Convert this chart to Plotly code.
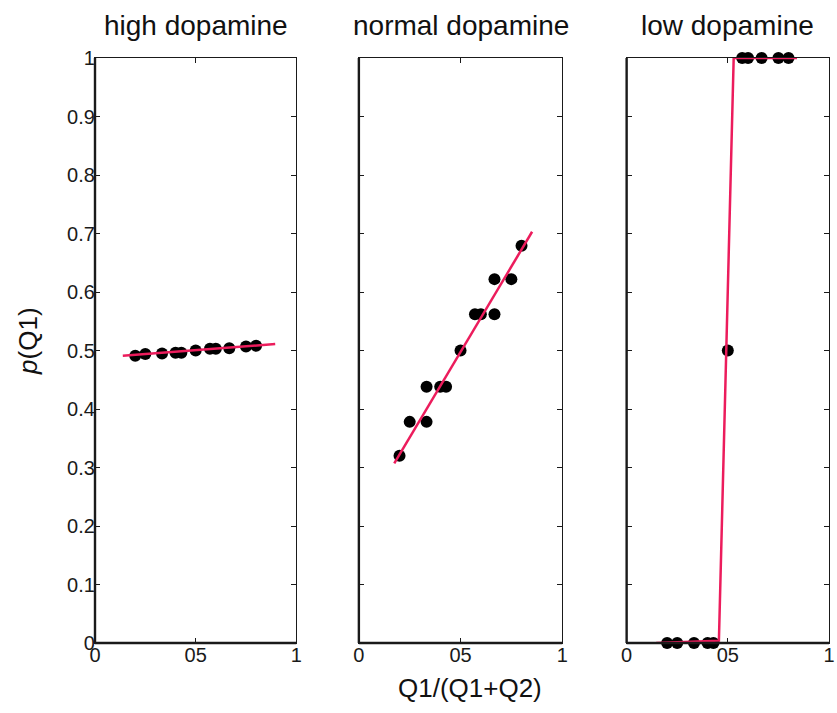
import plotly.graph_objects as go

# ---- data ----
titles = ["high dopamine", "normal dopamine", "low dopamine"]

high_x = [0.2, 0.25, 0.333, 0.4, 0.429, 0.5, 0.571, 0.6, 0.667, 0.75, 0.8]
high_y = [0.491, 0.494, 0.495, 0.496, 0.496, 0.500, 0.503, 0.503, 0.504, 0.507, 0.508]
high_fit_x = [0.138, 0.895]
high_fit_y = [0.491, 0.511]

normal_x = [0.2, 0.25, 0.333, 0.333, 0.4, 0.429, 0.5, 0.571, 0.6, 0.667, 0.667, 0.75, 0.8]
normal_y = [0.32, 0.378, 0.378, 0.438, 0.438, 0.438, 0.5, 0.562, 0.562, 0.562, 0.622, 0.622, 0.679]
normal_fit_x = [0.174, 0.852]
normal_fit_y = [0.307, 0.703]

low_x = [0.2, 0.25, 0.333, 0.4, 0.429, 0.5, 0.571, 0.6, 0.667, 0.75, 0.8]
low_y = [0, 0, 0, 0, 0, 0.5, 1, 1, 1, 1, 1]
low_fit_x = [0.146, 0.456, 0.529, 0.842]
low_fit_y = [0.0, 0.004, 1.0, 1.0]

x_tickvals = [0, 0.5, 1]
x_ticktext = ["0", "05", "1"]
y_tickvals = [0, 0.1, 0.2, 0.3, 0.4, 0.5, 0.6, 0.7, 0.8, 0.9, 1]
y_ticktext = ["0", "0.1", "0.2", "0.3", "0.4", "0.5", "0.6", "0.7", "0.8", "0.9", "1"]

x_label = "Q1/(Q1+Q2)"
y_label = "<i>p</i>(Q1)"

# ---- styling ----
FONT = "Liberation Sans, Arial, Helvetica, sans-serif"
LINE_COLOR = "rgb(236,28,92)"
domains = [[0.0, 0.2743], [0.3595, 0.6365], [0.7243, 1.0]]

panels = [
    (high_x, high_y, high_fit_x, high_fit_y),
    (normal_x, normal_y, normal_fit_x, normal_fit_y),
    (low_x, low_y, low_fit_x, low_fit_y),
]

fig = go.Figure()
layout_axes = {}
shapes = []
annotations = []

for i, (px, py, fx, fy) in enumerate(panels):
    n = i + 1
    xa = "x" if n == 1 else f"x{n}"
    ya = "y" if n == 1 else f"y{n}"
    fig.add_trace(go.Scatter(
        x=px, y=py, xaxis=xa, yaxis=ya, mode="markers",
        marker=dict(symbol="circle", size=12, color="black"),
        cliponaxis=False, showlegend=False, hoverinfo="skip"))
    fig.add_trace(go.Scatter(
        x=fx, y=fy, xaxis=xa, yaxis=ya, mode="lines",
        line=dict(color=LINE_COLOR, width=2.5),
        cliponaxis=False, showlegend=False, hoverinfo="skip"))

    common = dict(
        range=[0, 1], showgrid=False, zeroline=False,
        showline=True, linecolor="#1a1a1a", linewidth=1.3, mirror="ticks",
        ticks="inside", ticklen=5, tickwidth=1.2, tickcolor="#1a1a1a",
        tickfont=dict(family=FONT, size=20, color="#1a1a1a"),
        fixedrange=True,
    )
    layout_axes["xaxis" if n == 1 else f"xaxis{n}"] = dict(
        common, domain=domains[i], anchor=ya,
        tickmode="array", tickvals=x_tickvals, ticktext=x_ticktext,
        ticklabelstandoff=-6)
    layout_axes["yaxis" if n == 1 else f"yaxis{n}"] = dict(
        common, domain=[0, 1], anchor=xa,
        tickmode="array", tickvals=y_tickvals, ticktext=y_ticktext,
        showticklabels=(n == 1), ticklabelstandoff=-5)

    xd = f"{xa} domain"
    yd = f"{ya} domain"
    shapes.append(dict(type="line", xref=xd, yref=yd, x0=0, x1=0, y0=0, y1=1,
                       line=dict(color="#1a1a1a", width=2.4)))
    shapes.append(dict(type="line", xref=xd, yref=yd, x0=0, x1=1, y0=0, y1=0,
                       line=dict(color="#1a1a1a", width=2.4)))
    annotations.append(dict(
        text=titles[i], xref=xd, yref="paper", x=0.5, y=1.055,
        xanchor="center", yanchor="middle", showarrow=False,
        font=dict(family=FONT, size=28, color="#111")))

annotations.append(dict(
    text=x_label, xref="paper", yref="paper", x=0.511, y=-0.077,
    xanchor="center", yanchor="middle", showarrow=False,
    font=dict(family=FONT, size=26, color="#111")))
annotations.append(dict(
    text=y_label, xref="paper", yref="paper", x=-0.091, y=0.515,
    xanchor="center", yanchor="middle", textangle=-90, showarrow=False,
    font=dict(family=FONT, size=26, color="#111")))

fig.update_layout(
    width=837, height=713,
    margin=dict(l=95, r=2, t=58, b=70),
    paper_bgcolor="white", plot_bgcolor="white",
    shapes=shapes, annotations=annotations,
    **layout_axes,
)

# remove the default page margin so the figure fills the window exactly
fig.write_html(
    "out.html",
    config={"displayModeBar": False},
    post_script="document.body.style.margin='0';document.body.style.overflow='hidden';",
)
